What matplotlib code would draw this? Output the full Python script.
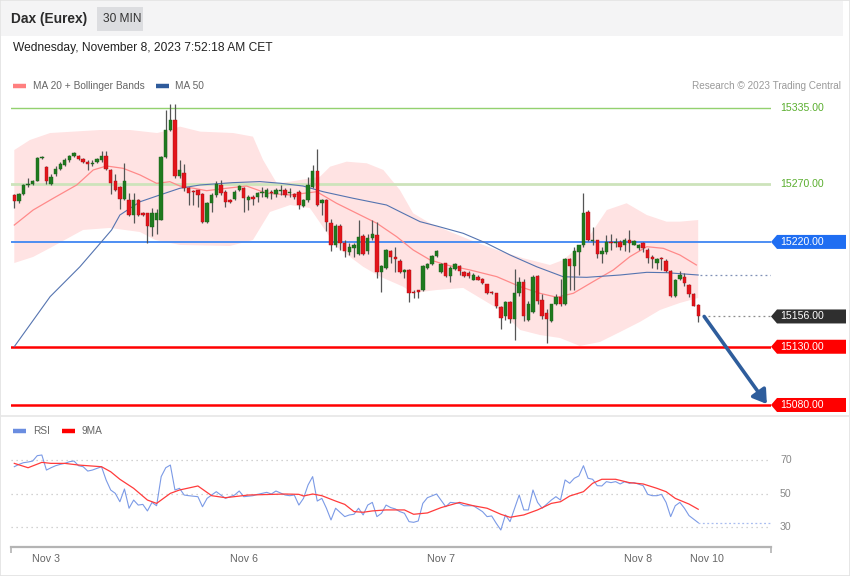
import matplotlib
matplotlib.use("Agg")
import matplotlib.pyplot as plt
import matplotlib.transforms as mtransforms
from matplotlib.patches import Rectangle, Polygon, FancyArrowPatch
from matplotlib.lines import Line2D
import numpy as np

plt.rcParams['font.family'] = ['Liberation Sans', 'DejaVu Sans']

# ---------------- data ----------------
opens = [15260, 15255, 15261, 15269, 15270, 15272, 15292, 15284, 15270, 15278,
         15283, 15286, 15290, 15294, 15294, 15291, 15289, 15287, 15289, 15290,
         15294, 15282, 15272, 15267, 15257, 15256, 15243, 15256, 15245, 15245,
         15233, 15239, 15239, 15293, 15316, 15325, 15277, 15279, 15266, 15264,
         15265, 15261, 15237, 15253, 15260, 15269, 15263, 15256, 15257, 15265,
         15266, 15256, 15259, 15259, 15262, 15259, 15263, 15261, 15264, 15265,
         15262, 15261, 15263, 15251, 15256, 15267, 15281, 15253, 15256, 15236,
         15217, 15234, 15219, 15211, 15215, 15210, 15225, 15212, 15223, 15226,
         15194, 15198, 15212, 15207, 15204, 15194, 15196, 15177, 15179, 15179,
         15198, 15201, 15208, 15194, 15202, 15191, 15197, 15199, 15194, 15193,
         15187, 15190, 15188, 15184, 15177, 15176, 15164, 15156, 15168, 15154,
         15176, 15186, 15153, 15160, 15191, 15170, 15159, 15152, 15167, 15173,
         15167, 15205, 15199, 15211, 15217, 15246, 15221, 15222, 15210, 15211,
         15220, 15219, 15220, 15217, 15222, 15217, 15215, 15219, 15213, 15207,
         15202, 15206, 15204, 15195, 15174, 15188, 15190, 15183, 15175, 15166]
highs = [15261, 15262, 15270, 15275, 15273, 15293, 15294, 15285, 15278, 15285,
         15289, 15292, 15295, 15297, 15295, 15292, 15290, 15290, 15292, 15298,
         15298, 15283, 15278, 15268, 15288, 15262, 15262, 15257, 15246, 15245,
         15249, 15248, 15294, 15333, 15338, 15338, 15290, 15287, 15267, 15265,
         15265, 15262, 15254, 15262, 15272, 15273, 15265, 15257, 15265, 15269,
         15267, 15260, 15260, 15263, 15267, 15266, 15265, 15266, 15269, 15266,
         15266, 15262, 15265, 15257, 15276, 15286, 15300, 15257, 15257, 15240,
         15235, 15235, 15222, 15219, 15219, 15239, 15227, 15227, 15239, 15237,
         15200, 15214, 15213, 15216, 15205, 15197, 15197, 15179, 15179, 15200,
         15202, 15209, 15213, 15202, 15202, 15199, 15202, 15200, 15195, 15195,
         15193, 15192, 15189, 15184, 15178, 15176, 15165, 15169, 15169, 15197,
         15190, 15188, 15169, 15192, 15192, 15175, 15162, 15167, 15175, 15188,
         15206, 15206, 15216, 15217, 15262, 15247, 15233, 15222, 15216, 15226,
         15227, 15223, 15222, 15223, 15230, 15222, 15218, 15220, 15215, 15209,
         15206, 15207, 15205, 15196, 15188, 15195, 15193, 15184, 15176, 15167]
lows = [15249, 15253, 15260, 15267, 15269, 15272, 15291, 15270, 15269, 15277,
        15282, 15285, 15289, 15293, 15290, 15288, 15282, 15285, 15288, 15289,
        15282, 15261, 15264, 15248, 15256, 15242, 15236, 15242, 15242, 15219,
        15225, 15227, 15239, 15292, 15315, 15275, 15275, 15264, 15252, 15252,
        15250, 15236, 15236, 15246, 15259, 15260, 15250, 15253, 15256, 15264,
        15246, 15247, 15252, 15254, 15259, 15258, 15257, 15259, 15260, 15259,
        15259, 15257, 15248, 15250, 15254, 15266, 15251, 15243, 15229, 15212,
        15216, 15213, 15207, 15209, 15207, 15209, 15209, 15210, 15222, 15189,
        15177, 15197, 15202, 15194, 15193, 15189, 15168, 15172, 15172, 15178,
        15197, 15200, 15207, 15193, 15190, 15186, 15196, 15192, 15190, 15189,
        15187, 15187, 15184, 15175, 15175, 15163, 15145, 15153, 15150, 15136,
        15174, 15152, 15152, 15159, 15167, 15154, 15133, 15151, 15166, 15165,
        15166, 15179, 15179, 15192, 15216, 15221, 15217, 15206, 15202, 15210,
        15213, 15216, 15213, 15212, 15211, 15217, 15213, 15211, 15202, 15198,
        15197, 15196, 15194, 15173, 15173, 15187, 15182, 15173, 15165, 15151]
closes = [15255, 15261, 15269, 15270, 15272, 15292, 15293, 15272, 15276, 15283,
          15287, 15290, 15294, 15296, 15291, 15289, 15287, 15288, 15291, 15294,
          15283, 15271, 15265, 15257, 15272, 15243, 15256, 15243, 15243, 15234,
          15245, 15245, 15293, 15316, 15325, 15277, 15282, 15266, 15262, 15263,
          15260, 15237, 15253, 15260, 15270, 15262, 15254, 15254, 15263, 15268,
          15258, 15259, 15257, 15262, 15263, 15265, 15262, 15265, 15265, 15260,
          15263, 15259, 15252, 15256, 15269, 15281, 15252, 15256, 15237, 15217,
          15234, 15219, 15212, 15216, 15217, 15224, 15210, 15223, 15227, 15194,
          15199, 15213, 15207, 15205, 15194, 15196, 15176, 15176, 15177, 15199,
          15201, 15208, 15212, 15201, 15191, 15198, 15201, 15195, 15191, 15191,
          15192, 15187, 15185, 15176, 15176, 15165, 15155, 15168, 15154, 15176,
          15186, 15156, 15167, 15190, 15169, 15156, 15154, 15167, 15173, 15167,
          15205, 15199, 15212, 15217, 15245, 15222, 15222, 15210, 15212, 15220,
          15219, 15220, 15216, 15222, 15219, 15221, 15217, 15215, 15206, 15205,
          15205, 15205, 15195, 15174, 15187, 15192, 15185, 15175, 15165, 15156]

ma20_idx = [0, 4.1, 8.5, 13.6, 17.2, 20.1, 23.7, 27.4, 31.0, 33.9, 36.1, 39.0, 41.9,
            46.3, 50.6, 55.0, 60.1, 65.9, 70.2, 74.6, 79.0, 83.3, 86.9, 90.6, 94.2,
            99.3, 105.1, 110.2, 114.5, 118.2, 121.8, 126.1, 130.5, 134.1, 137.8,
            141.4, 145.0, 148.6]
ma20_val = [15234.5, 15247.4, 15257.5, 15268.9, 15281.8, 15285.2, 15283.2, 15277.5,
            15270.3, 15271.7, 15268.0, 15266.1, 15264.0, 15266.1, 15268.0, 15261.8,
            15260.3, 15263.1, 15253.2, 15244.6, 15236.0, 15224.5, 15213.1, 15204.5,
            15200.2, 15195.9, 15190.2, 15181.6, 15175.9, 15172.5, 15175.9, 15185.9,
            15195.9, 15207.3, 15215.9, 15214.5, 15208.8, 15200.2]

bb_up_idx = [0, 3.4, 7.8, 12.8, 18.7, 25.2, 31.1, 33.9, 36.1, 40.5, 47.7, 52.0, 54.2,
             57.2, 60.1, 66.6, 68.8, 72.4, 76.8, 80.4, 84.0, 86.9, 90.6, 94.9, 99.3,
             105.1, 110.9, 116.7, 119.6, 124.7, 129.1, 133.4, 137.8, 142.1, 145.0, 149]
bb_up_val = [15298.9, 15307.5, 15313.5, 15314.7, 15316.1, 15316.1, 15313.5, 15316.1,
             15319.0, 15314.7, 15313.5, 15310.4, 15290.4, 15270.3, 15271.7, 15276.0,
             15284.6, 15288.9, 15287.5, 15281.8, 15264.6, 15244.6, 15236.0, 15228.8,
             15221.7, 15213.1, 15206.0, 15200.2, 15204.5, 15221.7, 15247.4, 15253.2,
             15243.1, 15237.4, 15237.4, 15238.8]

bb_lo_idx = [0, 4.1, 7.8, 15.0, 20.8, 27.4, 30.7, 36.1, 47.0, 52.0, 55.7, 60.1, 64.4,
             70.2, 76.0, 79.7, 84.7, 86.9, 92.0, 97.8, 105.8, 110.2, 114.5, 118.9,
             123.2, 127.6, 132.0, 136.3, 140.7, 145.0, 149]
bb_lo_val = [15201.9, 15207.1, 15214.8, 15230.3, 15232.0, 15228.5, 15221.7, 15217.4,
             15216.5, 15221.7, 15245.7, 15251.7, 15249.1, 15215.9, 15198.7, 15190.2,
             15181.6, 15176.2, 15178.7, 15180.5, 15161.6, 15144.4, 15140.1, 15137.5,
             15130.7, 15134.1, 15142.7, 15151.3, 15161.6, 15167.6, 15171.9]

ma50_idx = [0, 7.8, 14.3, 18.7, 21.2, 23.0, 27.4, 31.7, 36.1, 40.5, 47.6, 53.5, 57.9,
            62.9, 67.3, 73.8, 81.1, 84.7, 88.4, 92.0, 97.8, 102.9, 108.0, 113.8,
            119.6, 124.7, 132.0, 137.8, 142.1, 149]
ma50_val = [15130.1, 15173.0, 15198.7, 15218.8, 15230.3, 15243.1, 15254.5, 15260.3,
            15266.1, 15268.9, 15270.9, 15271.8, 15270.4, 15268.0, 15263.1, 15257.5,
            15251.7, 15244.6, 15237.4, 15233.7, 15227.4, 15218.8, 15208.8, 15198.7,
            15190.1, 15189.6, 15191.6, 15193.9, 15193.6, 15191.6]

rsi_idx = [0, 1, 2, 3, 4, 5, 6, 7, 8, 9, 10, 11, 12, 13, 14, 15, 16, 17, 19, 20, 21, 22,
           23, 24, 25, 26, 27, 28, 29, 30, 31, 32, 33, 34, 35, 36, 37, 38, 40, 41, 42,
           44, 45, 46, 48, 49, 50, 52, 53, 55, 56, 57, 59, 60, 61, 62, 63, 64, 65, 66,
           67, 68, 69, 70, 72, 73, 74, 75, 76, 77, 78, 79, 80, 81, 82, 83, 84, 85, 86,
           87, 88, 89, 90, 92, 94, 95, 97, 98, 100, 102, 103, 104, 105, 106, 107, 108,
           110, 111, 112, 113, 114, 115, 117, 118, 119, 120, 121, 122, 123, 124, 125,
           126, 127, 128, 129, 130, 131, 132, 133, 134, 135, 137, 138, 139, 140, 141,
           142, 143, 144, 145, 146, 147, 149]
rsi_val = [66.0, 67.4, 68.4, 68.8, 69.4, 72.6, 73.0, 64.0, 65.4, 66.6, 67.4, 68.0, 69.0,
           69.4, 66.6, 66.0, 63.4, 64.0, 66.0, 58.1, 52.1, 50.1, 45.1, 52.7, 41.2, 46.1,
           43.1, 43.5, 39.6, 44.7, 42.7, 60.1, 65.4, 67.0, 52.1, 53.1, 49.1, 48.7, 48.1,
           42.1, 47.1, 51.1, 49.1, 47.1, 49.1, 51.5, 48.1, 48.7, 49.5, 50.7, 49.7, 51.5,
           49.1, 48.7, 49.1, 43.1, 47.1, 55.1, 60.1, 45.5, 47.1, 41.2, 34.2, 41.2, 36.2,
           37.2, 37.6, 41.2, 37.2, 43.1, 44.7, 36.2, 38.2, 43.1, 41.6, 40.8, 39.2, 38.2,
           33.2, 32.8, 33.6, 44.1, 47.5, 49.7, 42.1, 44.7, 44.1, 42.7, 42.7, 39.2, 36.2,
           36.6, 32.2, 28.2, 37.2, 33.2, 49.1, 40.2, 40.2, 52.1, 44.7, 41.2, 46.1, 48.1,
           46.1, 58.1, 56.1, 59.1, 60.5, 66.6, 59.1, 58.5, 54.7, 54.5, 57.1, 56.5, 57.1,
           55.7, 57.1, 56.1, 56.5, 54.7, 49.5, 48.7, 48.7, 49.5, 44.7, 36.2, 42.7, 44.7,
           41.2, 36.8, 32.6]

ma9_idx = [0, 3, 6, 8, 11, 14, 19, 21, 23, 26, 29, 31, 34, 36, 40, 43, 46, 51, 59, 62,
           63, 65, 67, 70, 72, 74, 76, 78, 81, 85, 87, 90, 93, 97, 100, 103, 106, 108,
           111, 114, 117, 119, 121, 124, 126, 128, 131, 134, 137, 140, 142, 144, 147, 149]
ma9_val = [68.0, 65.4, 68.6, 68.0, 68.0, 67.0, 66.0, 63.0, 58.5, 53.1, 46.1, 44.1, 50.1,
           52.1, 54.5, 48.7, 47.5, 49.1, 49.7, 49.5, 48.5, 49.7, 48.7, 45.5, 43.5, 39.2,
           38.8, 39.6, 40.2, 40.2, 37.6, 38.4, 41.6, 44.7, 42.7, 41.2, 37.6, 35.8, 37.2,
           40.2, 44.1, 45.1, 48.5, 51.1, 56.1, 58.5, 58.5, 56.5, 55.7, 53.1, 51.1, 47.1,
           43.7, 40.6]

levels = [15335, 15270, 15220, 15130, 15080]
target = 15080
day_idx = [7, 50, 93, 136, 151]
day_labels = ["Nov 3", "Nov 6", "Nov 7", "Nov 8", "Nov 10"]
rsi_levels = [70, 50, 30]

# ---------------- figure ----------------
W, H = 850, 576
fig = plt.figure(figsize=(W / 100, H / 100), dpi=100)
fig.patch.set_facecolor('white')


def fx(px):
    return px / W


def fy(py):
    return 1 - py / H


def swatch(x0, x1, y, color):
    fig.lines.append(Line2D([fx(x0), fx(x1)], [fy(y), fy(y)], transform=fig.transFigure,
                            color=color, lw=3.2, solid_capstyle='butt'))


# outer frame, header band
fig.patches.append(Rectangle((0, 0), 1, 1, transform=fig.transFigure, fill=False,
                             edgecolor='#e2e2e2', lw=1.2, zorder=0))
fig.patches.append(Rectangle((fx(1), fy(36)), fx(842), 35 / H, transform=fig.transFigure,
                             facecolor='#f4f4f5', edgecolor='none', zorder=0))
fig.patches.append(Rectangle((fx(97), fy(31)), fx(46), 24 / H, transform=fig.transFigure,
                             facecolor='#dcdde0', edgecolor='none', zorder=1))
fig.lines.append(Line2D([0, 1], [fy(416), fy(416)], transform=fig.transFigure,
                        color='#e6e6e6', lw=1.2))

fig.text(fx(11), fy(19), "Dax (Eurex)", fontsize=9.9, fontweight='bold', color='#2b2b2b',
         va='center', ha='left')
fig.text(fx(103), fy(19), "30 MIN", fontsize=8.6, color='#333333', va='center', ha='left')
fig.text(fx(13), fy(48), "Wednesday, November 8, 2023 7:52:18 AM CET", fontsize=8.65,
         color='#222222', va='center', ha='left')

# legend row
swatch(13, 26, 86, '#ff7f7f')
fig.text(fx(33), fy(86), "MA 20 + Bollinger Bands", fontsize=7.3, color='#666666', va='center')
swatch(156, 169, 86, '#2f5b9b')
fig.text(fx(175), fy(86), "MA 50", fontsize=7.3, color='#666666', va='center')
fig.text(fx(841), fy(86), "Research \u00a9 2023 Trading Central", fontsize=7.2,
         color='#9a9a9a', va='center', ha='right')

# ---------------- main price axes ----------------
ax = fig.add_axes([fx(11), fy(415), 760 / W, 355 / H])
ax.set_xlim(-0.72, 164.86)
ax.set_ylim(15071.4, 15376.2)
ax.axis('off')

# bollinger band
band_x = np.concatenate([bb_up_idx, bb_lo_idx[::-1]])
band_y = np.concatenate([bb_up_val, bb_lo_val[::-1]])
ax.fill(band_x, band_y, color='#ffe3e3', lw=0, zorder=1)

# level lines
ax.axhline(levels[0], color='#93d16f', lw=1.0, zorder=2)
ax.axhline(levels[1], color='#cde3bb', lw=2.0, zorder=2)
ax.axhline(levels[2], color='#3f86f2', lw=1.3, zorder=2)
ax.axhline(levels[3], color='#ff0000', lw=1.8, zorder=2)
ax.axhline(levels[4], color='#ff0000', lw=1.8, zorder=2)

ax.plot(ma20_idx, ma20_val, color='#ff8a8a', lw=0.9, zorder=3)
ax.plot(ma50_idx, ma50_val, color='#5574b0', lw=0.8, zorder=3)

# candles
idx = np.arange(len(closes))
o = np.array(opens, float)
c = np.array(closes, float)
up = c >= o
ax.vlines(idx, lows, highs, color='#555555', lw=0.9, zorder=4)
body_bottom = np.minimum(o, c)
body_h = np.maximum(np.abs(c - o), 1.0)
ax.bar(idx[up], body_h[up], bottom=body_bottom[up], width=0.74, color='#1f7a1f',
       edgecolor='#1a5e1a', lw=0.3, zorder=5)
ax.bar(idx[~up], body_h[~up], bottom=body_bottom[~up], width=0.74, color='#e3141b',
       edgecolor='#a81015', lw=0.3, zorder=5)

last_i = idx[-1]
xr = ax.get_xlim()[1]
# dotted continuation lines
ax.plot([last_i + 0.3, xr], [ma50_val[-1], ma50_val[-1]], color='#7d8fb5', lw=0.9,
        ls=(0, (1.5, 2.5)), zorder=3)
ax.plot([last_i + 1, xr], [closes[-1], closes[-1]], color='#8a8a8a', lw=0.9,
        ls=(0, (1.5, 2.5)), zorder=3)

# forecast arrow
arrow = FancyArrowPatch((last_i + 1.3, closes[-1]), (xr - 0.9, target + 0.8),
                        arrowstyle='-|>,head_length=5,head_width=3.2', mutation_scale=1.6,
                        color='#2e5d9c', lw=2.6, zorder=6, shrinkA=0, shrinkB=0)
ax.add_patch(arrow)

# right labels
tr = mtransforms.blended_transform_factory(fig.transFigure, ax.transData)
ax.text(fx(780), levels[0], "15335.00", transform=tr, fontsize=7.6, color='#5aae2e',
        va='center', ha='left')
ax.text(fx(780), levels[1], "15270.00", transform=tr, fontsize=7.6, color='#5aae2e',
        va='center', ha='left')

half = 7.0 * (ax.get_ylim()[1] - ax.get_ylim()[0]) / 355.0


def tag(val, color):
    xs = [fx(771), fx(777), fx(846), fx(846), fx(777)]
    ys = [val, val + half, val + half, val - half, val - half]
    poly = Polygon(list(zip(xs, ys)), closed=True, transform=tr, facecolor=color,
                   edgecolor='none', clip_on=False, zorder=7)
    ax.add_patch(poly)
    ax.text(fx(780), val, f"{val:.2f}", transform=tr, fontsize=7.6, color='white',
            va='center', ha='left', zorder=8, clip_on=False)


tag(levels[2], '#1f6ef2')
tag(closes[-1], '#2f2f2f')
tag(levels[3], '#ff0000')
tag(levels[4], '#ff0000')

# ---------------- RSI axes ----------------
ax2 = fig.add_axes([fx(11), fy(547), 760 / W, 127 / H])
ax2.set_xlim(-0.72, 164.86)
ax2.set_ylim(18.06, 93.9)
for s in ['top', 'right', 'left']:
    ax2.spines[s].set_visible(False)
ax2.spines['bottom'].set_color('#b4b4b4')
ax2.spines['bottom'].set_linewidth(1.6)
ax2.set_yticks([])
ax2.set_xticks(day_idx)
ax2.set_xticklabels(day_labels, fontsize=7.7, color='#666666')
ax2.tick_params(axis='x', length=0, pad=5)
ax2.set_xticks([-0.72, 164.86], minor=True)
ax2.tick_params(axis='x', which='minor', length=4, width=1.2, color='#b4b4b4')
ax2.patch.set_alpha(0)

for lv in rsi_levels:
    ax2.axhline(lv, color='#c4c4c4', lw=0.9, ls=(0, (1, 3)), zorder=1)
    ax2.text(fx(780), lv, str(lv), transform=mtransforms.blended_transform_factory(
        fig.transFigure, ax2.transData), fontsize=7.6, color='#888888', va='center')

ax2.plot(rsi_idx, rsi_val, color='#7b9ae6', lw=0.8, zorder=3)
ax2.plot(ma9_idx, ma9_val, color='#ff3b3b', lw=0.9, zorder=4)
ax2.plot([rsi_idx[-1], 164.86], [rsi_val[-1], rsi_val[-1]], color='#a9bdf0', lw=0.9,
         ls=(0, (1.5, 2)), zorder=2)

swatch(13, 26, 431, '#6a8de0')
fig.text(fx(33), fy(431), "RSI", fontsize=7.3, color='#666666', va='center')
swatch(62, 75, 431, '#ff0000')
fig.text(fx(82), fy(431), "9MA", fontsize=7.3, color='#666666', va='center')

fig.savefig("out.png", dpi=100)
